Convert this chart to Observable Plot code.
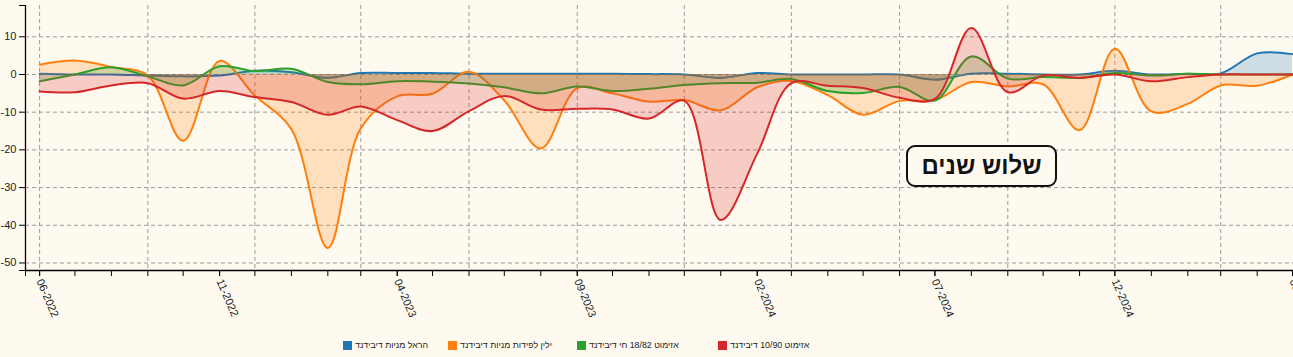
<!DOCTYPE html>
<html>
<head>
<meta charset="utf-8">
<script src="https://cdn.jsdelivr.net/npm/d3@7"></script>
<script src="https://cdn.jsdelivr.net/npm/@observablehq/plot@0.6"></script>
<style>
  html, body { margin: 0; padding: 0; background: #fffaf0; overflow: hidden; }
  #wrap { position: relative; width: 1293px; height: 357px; font-family: "Liberation Sans", Arial, sans-serif; }
  #chart { position: absolute; left: 0; top: 0; }
  #badge {
    position: absolute; left: 906px; top: 145px; width: 151px; height: 42px;
    box-sizing: border-box; border: 2px solid #111; border-radius: 9px; background: #fffaf0;
    display: flex; align-items: center; justify-content: center;
    font-weight: bold; font-size: 24px; color: #111; direction: rtl;
  }
  .leg { position: absolute; top: 338px; height: 14px; display: flex; align-items: center; direction: ltr; font-size: 8.8px; color: #222; white-space: nowrap; }
  .leg .sw { width: 9px; height: 9px; margin-right: 3px; }
</style>
</head>
<body>
<div id="wrap">
  <div id="chart"></div>
  <div id="badge">שלוש שנים</div>
</div>
<script>
// ---- data ----
const months = [
  "2022-06","2022-07","2022-08","2022-09","2022-10","2022-11","2022-12",
  "2023-01","2023-02","2023-03","2023-04","2023-05","2023-06","2023-07","2023-08","2023-09","2023-10","2023-11","2023-12",
  "2024-01","2024-02","2024-03","2024-04","2024-05","2024-06","2024-07","2024-08","2024-09","2024-10","2024-11","2024-12",
  "2025-01","2025-02","2025-03","2025-04","2025-05"
];
const harel = [0.2, 0, 0, -0.3, -0.5, -0.3, 1.0, 0.6, -0.9, 0.4, 0.4, 0.4,
  0.2, 0.2, 0.2, 0.2, 0.2, 0.1, 0, -0.9, 0.4, 0, 0, 0,
  0, -1.4, 0.2, 0.2, 0, 0, 1.0, 0, 0.2, 0.3, 5.6, 5.4];
const yelin = [2.6, 3.7, 2.0, -0.3, -17.6, 3.6, -5.6, -14.5, -46, -14.3, -5.8, -5.1,
  0.7, -6.9, -19.6, -3.6, -5.0, -7.2, -6.8, -9.5, -3.4, -1.7, -5.5, -10.7,
  -7.0, -6.8, -2.0, -3.2, -2.6, -14.8, 6.8, -9.8, -7.8, -2.9, -3.0, 0];
const az1882 = [-1.8, 0, 1.9, -0.5, -2.9, 2.2, 0.9, 1.5, -2.0, -2.6, -1.8, -1.9,
  -2.4, -3.4, -5.0, -3.2, -4.4, -3.8, -2.8, -2.3, -2.2, -1.2, -4.4, -4.9,
  -3.3, -6.9, 4.8, -1.1, -0.7, -0.9, 0.4, -0.3, 0.2, 0, 0, 0];
const az1090 = [-4.5, -4.7, -2.9, -2.3, -6.4, -4.4, -6.0, -7.3, -10.7, -8.5, -12.1, -15.0,
  -9.7, -5.7, -9.3, -9.1, -9.3, -11.7, -7.0, -38.6, -21.0, -2.3, -3.0, -3.6,
  -6.2, -6.5, 12.3, -4.7, -0.3, -0.9, 0, -1.8, -0.7, 0, 0, 0];
const seriesNames = ["הראל מניות דיבידנד", "ילין לפידות מניות דיבידנד", "אזימוט 18/82 חי דיבידנד", "אזימוט 10/90 דיבידנד"];
const seriesValues = [harel, yelin, az1882, az1090];
const seriesColors = ["#1f77b4", "#ff7f0e", "#2ca02c", "#d62728"];
const xTickLabels = ["06-2022","11-2022","04-2023","09-2023","02-2024","07-2024","12-2024","05-2025"];
const yTicks = [10, 0, -10, -20, -30, -40, -50];

// ---- layout ----
const legendLeft = [343, 448, 577, 718];

const parseMonth = d3.utcParse("%Y-%m");
const parseLabel = d3.utcParse("%m-%Y");
const fmtLabel = d3.utcFormat("%m-%Y");
const dates = months.map(parseMonth);
const all = seriesValues.flat();
const [ymin, ymax] = d3.extent(all);
const yDomain = [ymin - 6, ymax + 6];
const xStart = d3.utcDay.offset(dates[0], -12);
const xEnd = dates[dates.length - 1];
const monthTicks = [xStart, ...dates];
const labelDates = xTickLabels.map(parseLabel);
const gridDates = dates.filter((d, i) => i % 3 === 0);

const seriesRows = seriesValues.map((vals, s) => vals.map((v, i) => ({date: dates[i], value: v, name: seriesNames[s]})));

const marks = [
  Plot.ruleY(yTicks, {stroke: "#9a9a9a", strokeDasharray: "4,3", strokeWidth: 1}),
  Plot.ruleX(gridDates, {stroke: "#9a9a9a", strokeDasharray: "4,3", strokeWidth: 1})
];
seriesRows.forEach((rows, s) => {
  marks.push(Plot.areaY(rows, {x: "date", y: "value", fill: seriesColors[s], fillOpacity: 0.22, curve: "catmull-rom"}));
  marks.push(Plot.lineY(rows, {x: "date", y: "value", stroke: seriesColors[s], strokeWidth: 2, curve: "catmull-rom"}));
});
marks.push(
  Plot.ruleX([xStart], {stroke: "#000", strokeWidth: 1.3}),
  Plot.ruleY([yDomain[0]], {stroke: "#000", strokeWidth: 1.3}),
  Plot.axisY(yTicks, {anchor: "left", tickSize: 6, tickPadding: 3, tickFormat: d => String(d), label: null, stroke: "#000", fill: "#222", fontSize: 11}),
  Plot.axisY(yDomain, {anchor: "left", tickSize: 6, fill: "none", label: null, stroke: "#000"}),
  Plot.axisX(monthTicks, {anchor: "bottom", tickSize: 6, fill: "none", label: null, stroke: "#000"}),
  Plot.axisX(labelDates, {anchor: "bottom", tickSize: 6, tickPadding: 3, tickRotate: 67, tickFormat: fmtLabel, label: null, stroke: "#000", fill: "#222", fontSize: 11})
);

const chart = Plot.plot({
  width: 1293,
  height: 330,
  marginTop: 5,
  marginLeft: 25,
  marginRight: 0,
  marginBottom: 60,
  style: {background: "transparent", fontFamily: "'Liberation Sans', Arial, sans-serif", fontSize: "11px", overflow: "visible"},
  x: {type: "utc", domain: [xStart, xEnd], range: [25, 1292]},
  y: {domain: yDomain},
  marks
});
document.getElementById("chart").appendChild(chart);

const wrap = document.getElementById("wrap");
seriesNames.forEach((name, s) => {
  const item = document.createElement("div");
  item.className = "leg";
  item.style.left = legendLeft[s] + "px";
  const sw = document.createElement("span");
  sw.className = "sw";
  sw.style.background = seriesColors[s];
  const tx = document.createElement("span");
  tx.dir = "rtl";
  tx.textContent = name;
  item.appendChild(sw);
  item.appendChild(tx);
  wrap.appendChild(item);
});
</script>
</body>
</html>
